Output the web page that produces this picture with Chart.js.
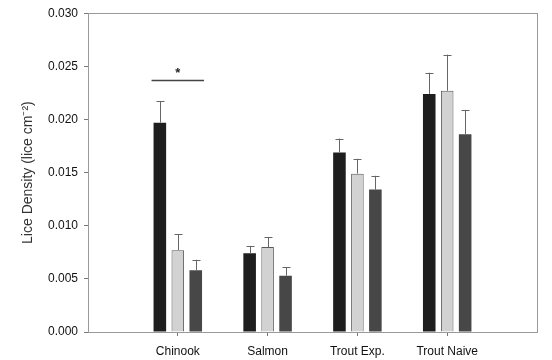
<!DOCTYPE html>
<html lang="en">
<head>
<meta charset="UTF-8">
<title>Lice Density</title>
<script src="https://cdn.jsdelivr.net/npm/chart.js@4.4.0/dist/chart.umd.min.js"></script>
<style>
    *{margin:0;padding:0;box-sizing:border-box;}
    body{background:#fff;}
    #wrap{width:552px;height:360px;}
</style>
</head>
<body>
<div id="wrap"><canvas id="mycanvas" width="552" height="360"></canvas></div>
<script>
    // groups on the x axis
    let categories = ["Chinook", "Salmon", "Trout Exp.", "Trout Naive"];
    // three bars per group (dark, light, mid)
    let series1 = [0.0197, 0.0074, 0.0169, 0.0224];
    let series2 = [0.0077, 0.0080, 0.0149, 0.0227];
    let series3 = [0.0058, 0.0053, 0.0134, 0.0186];
    // upper error (SE)
    let err1 = [0.0020, 0.0007, 0.0013, 0.0020];
    let err2 = [0.0015, 0.0009, 0.0014, 0.0034];
    let err3 = [0.0010, 0.0008, 0.0013, 0.0023];
    let yTicks = [0, 0.005, 0.010, 0.015, 0.020, 0.025, 0.030];
    let sigLevel = 0.0237; // line with * over Chinook

    // empty slot at each end so the groups sit where the original has them
    let labels = [""].concat(categories, [""]);
    function pad(a){ return [null].concat(a, [null]); }
    let errs = [pad(err1), pad(err2), pad(err3)];

    const font = "'Liberation Sans', Arial, sans-serif";

    // error bars, frame and significance mark
    const extras = {
        id: "extras",
        afterDatasetsDraw(chart){
            const c = chart.ctx;
            const ys = chart.scales.y;
            const area = chart.chartArea;
            c.save();
            c.strokeStyle = "#666";
            c.lineWidth = 1;
            chart.data.datasets.forEach(function(ds, i){
                const meta = chart.getDatasetMeta(i);
                meta.data.forEach(function(el, j){
                    const v = ds.data[j];
                    if(v == null) return;
                    const top = ys.getPixelForValue(v + errs[i][j]);
                    const x = Math.round(el.x) + 0.5;
                    c.beginPath();
                    c.moveTo(x, el.y);
                    c.lineTo(x, top);
                    c.moveTo(x - 4, Math.round(top) + 0.5);
                    c.lineTo(x + 4, Math.round(top) + 0.5);
                    c.stroke();
                });
            });
            // box round the plot
            c.strokeStyle = "#999";
            c.strokeRect(Math.round(area.left) + 0.5, Math.round(area.top) + 0.5,
                Math.round(area.right - area.left), Math.round(area.bottom - area.top));
            // significance line over Chinook
            const m0 = chart.getDatasetMeta(0).data[1];
            const m2 = chart.getDatasetMeta(2).data[1];
            const sy = Math.round(ys.getPixelForValue(sigLevel)) + 0.5;
            c.strokeStyle = "#444";
            c.lineWidth = 1.5;
            c.beginPath();
            c.moveTo(m0.x - m0.width / 2 - 2, sy);
            c.lineTo(m2.x + m2.width / 2 + 2, sy);
            c.stroke();
            c.fillStyle = "#222";
            c.font = "bold 13px " + font;
            c.textAlign = "center";
            c.textBaseline = "middle";
            c.fillText("*", (m0.x + m2.x) / 2, sy - 7);
            c.restore();
        }
    };

    new Chart(document.getElementById("mycanvas"), {
        type: "bar",
        plugins: [extras],
        data: {
            labels: labels,
            datasets: [
                {data: pad(series1), backgroundColor: "#1e1e1e", borderColor: "#1e1e1e", borderWidth: 0},
                {data: pad(series2), backgroundColor: "#d2d2d2", borderColor: "#5a5a5a", borderWidth: 1},
                {data: pad(series3), backgroundColor: "#474747", borderColor: "#474747", borderWidth: 0}
            ]
        },
        options: {
            responsive: false,
            devicePixelRatio: 1,
            animation: false,
            layout: {padding: {top: 9, right: 15, left: 0, bottom: 0}},
            datasets: {bar: {categoryPercentage: 0.6, barPercentage: 0.7}},
            plugins: {legend: {display: false}, tooltip: {enabled: false}},
            scales: {
                x: {
                    offset: false,
                    grid: {
                        offset: false,
                        drawOnChartArea: false,
                        tickLength: 4,
                        tickColor: function(ctx){ return (ctx.index == 0 || ctx.index == labels.length - 1) ? "rgba(0,0,0,0)" : "#777"; }
                    },
                    border: {color: "#999"},
                    ticks: {
                        color: "#111",
                        padding: 8,
                        maxRotation: 0,
                        autoSkip: false,
                        font: {family: font, size: 12}
                    },
                    afterFit: function(s){ s.height = 28; }
                },
                y: {
                    min: 0,
                    max: 0.03,
                    grid: {drawOnChartArea: false, tickLength: 4, tickColor: "#777"},
                    border: {color: "#999"},
                    afterBuildTicks: function(s){ s.ticks = yTicks.map(function(v){ return {value: v}; }); },
                    ticks: {
                        color: "#111",
                        padding: 6,
                        font: {family: font, size: 12},
                        callback: function(v){ return Number(v).toFixed(3); }
                    },
                    title: {
                        display: true,
                        text: "Lice Density (lice cm\u207B\u00B2)",
                        color: "#333",
                        font: {family: font, size: 14},
                        padding: {top: 20, bottom: 0}
                    },
                    afterFit: function(s){ s.width = 88; }
                }
            }
        }
    });
</script>
</body>
</html>
